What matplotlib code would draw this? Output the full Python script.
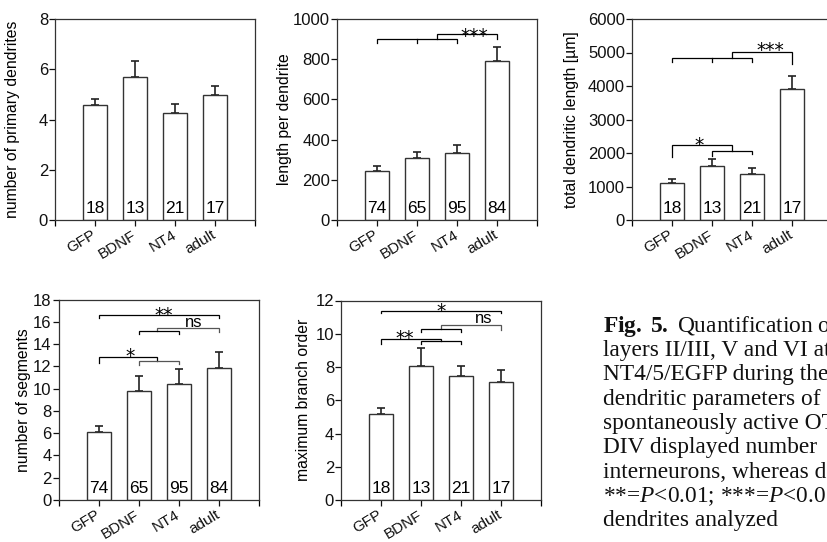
import numpy as np
import matplotlib
matplotlib.use('Agg')
import matplotlib.pyplot as plt
from matplotlib.transforms import offset_copy

plt.rcParams['font.family'] = ['Liberation Sans', 'DejaVu Sans']
plt.rcParams['mathtext.fontset'] = 'custom'
plt.rcParams['mathtext.rm'] = 'Liberation Serif'
plt.rcParams['mathtext.it'] = 'Liberation Serif:italic'
plt.rcParams['mathtext.bf'] = 'Liberation Serif:bold'

# data
groups = ['GFP', 'BDNF', 'NT4', 'adult']
n_cells = ['18', '13', '21', '17']
n_dendrites = ['74', '65', '95', '84']

primary = [4.56, 5.69, 4.25, 4.96]
primary_err = [0.26, 0.65, 0.35, 0.38]
length_per = [244, 306, 331, 789]
length_per_err = [27, 34, 43, 70]
total_len = [1114, 1612, 1373, 3900]
total_len_err = [100, 209, 169, 398]
segments = [6.10, 9.75, 10.38, 11.87]
segments_err = [0.57, 1.40, 1.34, 1.38]
branch = [5.16, 8.07, 7.43, 7.12]
branch_err = [0.40, 1.06, 0.64, 0.67]

caption = [
    r'$\mathbf{Fig.\ 5.}$ Quantification of',
    'layers II/III, V and VI at',
    'NT4/5/EGFP during the',
    'dendritic parameters of',
    'spontaneously active OT',
    'DIV displayed number',
    'interneurons, whereas d',
    r'**=$P$<0.01; ***=$P$<0.0',
    'dendrites analyzed',
]

W, H = 827, 542
fig = plt.figure(figsize=(W / 100, H / 100), dpi=100)
FS = 11.3


def make_axes(left, top, bottom, width=200):
    return fig.add_axes([left / W, 1 - bottom / H, width / W, (bottom - top) / H])


def bar_panel(ax, vals, errs, counts, ymax, ystep, ylabel, label_off):
    x = np.arange(len(groups))
    ax.bar(x, vals, width=0.6, color='white', edgecolor='#333333', linewidth=1.0, zorder=2)
    ax.errorbar(x, vals, yerr=[np.zeros(len(vals)), errs], fmt='none',
                ecolor='#222222', elinewidth=1.2, capsize=3, capthick=1.2, zorder=1)
    for xi, c in zip(x, counts):
        ax.text(xi, 0.02, c, transform=ax.get_xaxis_transform(), ha='center',
                va='bottom', fontsize=12.5, zorder=3)
    ax.set_xlim(-1, 4)
    ax.set_ylim(0, ymax)
    ax.set_yticks(np.arange(0, ymax + ystep / 2, ystep))
    ax.set_xticks(x)
    ax.set_xticks([-1, 4], minor=True)
    ax.set_xticklabels(groups, rotation=31, ha='right', va='center', rotation_mode='anchor')
    ax.tick_params(axis='both', direction='out', length=4, width=0.9, colors='#111111')
    ax.tick_params(axis='y', labelsize=12, pad=1)
    ax.tick_params(axis='x', labelsize=11, pad=6)
    ax.tick_params(axis='x', which='minor', length=4, width=0.9)
    for s in ax.spines.values():
        s.set_linewidth(0.9)
        s.set_color('#333333')
    ax.set_ylabel(ylabel, fontsize=FS)
    ax.yaxis.set_label_coords(-label_off / 200, 0.5)


def sig_bracket(ax, x1, x2, y, d1, d2, mid=None, color='black'):
    ax.plot([x1, x1, x2, x2], [y - d1, y, y, y - d2], color=color, lw=0.9,
            solid_joinstyle='miter', clip_on=False)
    if mid is not None:
        ax.plot([mid, mid], [y, y - d1], color=color, lw=0.9, clip_on=False)


def star(ax, x, yc, s, fs=13.5):
    # asterisks centred on (x, yc)
    tr = offset_copy(ax.transData, fig=fig, y=-0.59 * fs, units='points')
    ax.text(x, yc, s, transform=tr, ha='center', va='baseline', fontsize=fs,
            family='DejaVu Sans')


def ns(ax, x, yc, fs=12):
    tr = offset_copy(ax.transData, fig=fig, y=-0.26 * fs, units='points')
    ax.text(x, yc, 'ns', transform=tr, ha='center', va='baseline', fontsize=fs)


# panel 1
ax1 = make_axes(55, 19, 220)
bar_panel(ax1, primary, primary_err, n_cells, 8, 2, 'number of primary dendrites', 35)

# panel 2
ax2 = make_axes(337, 19, 220)
bar_panel(ax2, length_per, length_per_err, n_dendrites, 1000, 200, 'length per dendrite', 45)
sig_bracket(ax2, 0, 2, 900, 20, 20, mid=1)
sig_bracket(ax2, 1.5, 3, 924, 24, 24)
star(ax2, 2.43, 943, '***')

# panel 3
ax3 = make_axes(632, 19, 220)
bar_panel(ax3, total_len, total_len_err, n_cells, 6000, 1000, 'total dendritic length [µm]', 53)
sig_bracket(ax3, 0, 2, 4846, 120, 120, mid=1)
sig_bracket(ax3, 1.5, 3, 5005, 160, 360)
star(ax3, 2.46, 5224, '***')
sig_bracket(ax3, 0, 1.5, 2239, 370, 170)
sig_bracket(ax3, 1, 2, 2070, 150, 110)
star(ax3, 0.67, 2388, '*')

# panel 4
ax4 = make_axes(58.5, 299.5, 500)
bar_panel(ax4, segments, segments_err, n_dendrites, 18, 2, 'number of segments', 27)
sig_bracket(ax4, 0, 3, 16.63, 0.3, 0.3)
star(ax4, 1.63, 17.1, '**')
sig_bracket(ax4, 1.45, 3, 15.46, 0.3, 0.36, color='#555555')
sig_bracket(ax4, 1, 2, 15.16, 0.3, 0.3)
ns(ax4, 2.38, 15.9)
sig_bracket(ax4, 0, 1.45, 12.8, 0.54, 0.3)
sig_bracket(ax4, 1, 2, 12.5, 0.4, 0.3, color='#555555')
star(ax4, 0.78, 13.37, '*')

# panel 5
ax5 = make_axes(341, 300.5, 500)
bar_panel(ax5, branch, branch_err, n_cells, 12, 2, 'maximum branch order', 29.5)
sig_bracket(ax5, 0, 3, 11.38, 0.15, 0.15)
star(ax5, 1.5, 11.68, '*')
sig_bracket(ax5, 1.5, 3, 10.5, 0.23, 0.3, color='#555555')
sig_bracket(ax5, 1, 2, 10.27, 0.15, 0.15)
ns(ax5, 2.56, 10.88)
sig_bracket(ax5, 0, 1.5, 9.69, 0.32, 0.14)
sig_bracket(ax5, 1, 2, 9.55, 0.18, 0.18)
star(ax5, 0.6, 10.03, '**')

# caption, running off the right edge as on the page
for i, line in enumerate(caption):
    fig.text(603 / W, 1 - (331.7 + 24.3 * i) / H, line, fontsize=16.8,
             family='Liberation Serif', ha='left', va='baseline', color='#111111')

fig.savefig('out.png', dpi=100)
